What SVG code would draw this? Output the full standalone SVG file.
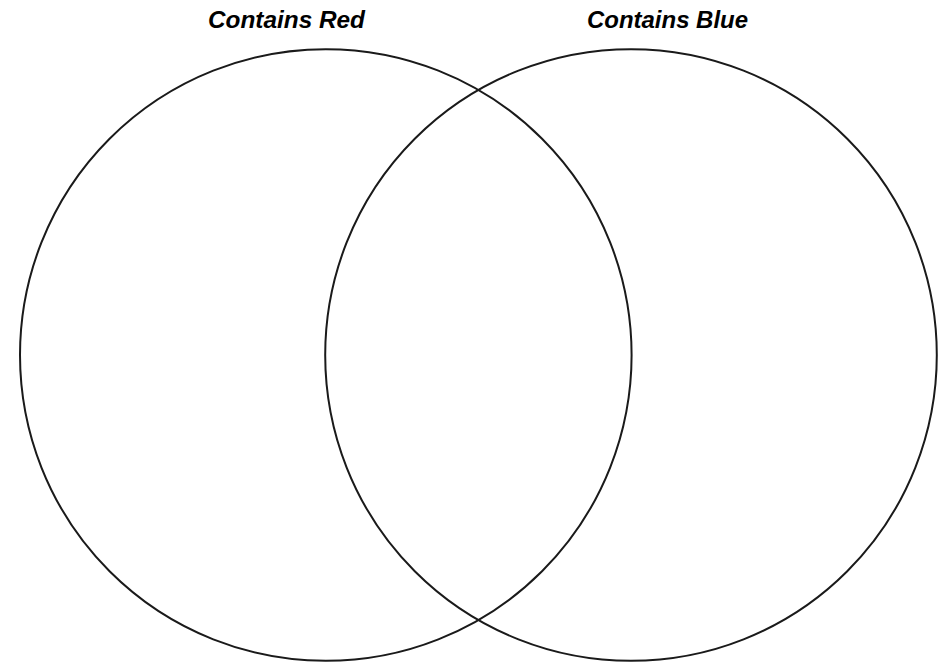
<svg xmlns="http://www.w3.org/2000/svg" width="943" height="662" viewBox="0 0 943 662">
<style>
.c{fill:none;stroke:#1a1a1a;stroke-width:2}
.t{font-family:"Liberation Sans",Arial,sans-serif;font-weight:bold;font-style:italic;font-size:24px;fill:#000}
</style>
<rect width="943" height="662" fill="#fff"/>
<g id="red">
<circle class="c" cx="325.8" cy="355" r="305.8"/>
<text class="t" x="208" y="27.5" textLength="157" lengthAdjust="spacingAndGlyphs">Contains Red</text>
</g>
<g id="blue">
<circle class="c" cx="631" cy="355" r="305.8"/>
<text class="t" x="587" y="27.5" textLength="161" lengthAdjust="spacingAndGlyphs">Contains Blue</text>
</g>
<g id="connectors"/>
</svg>
